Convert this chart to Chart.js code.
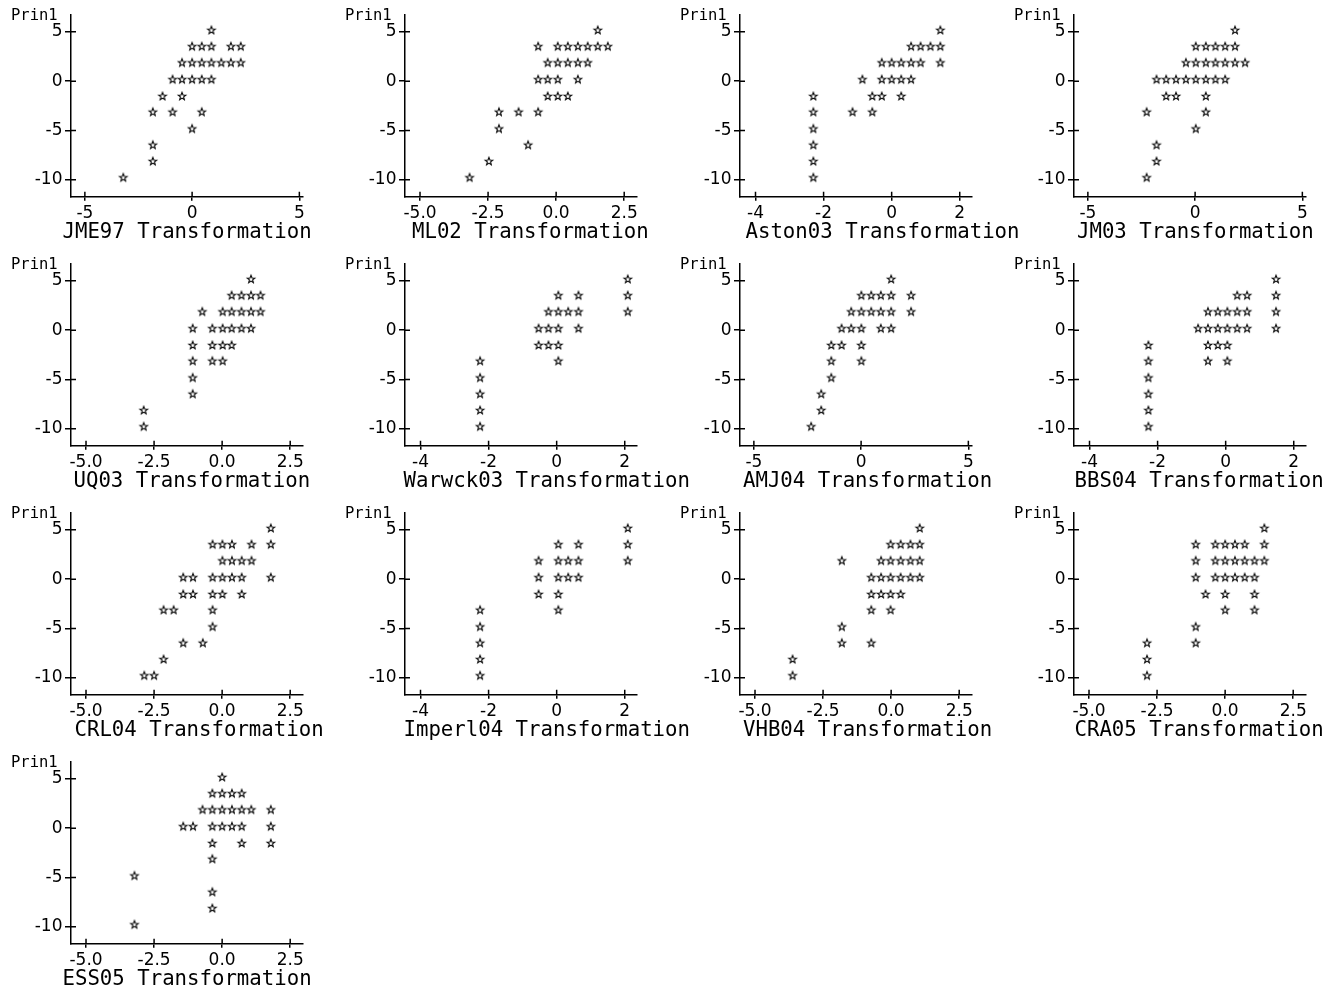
<!DOCTYPE html>
<html>
<head>
<meta charset="utf-8">
<script src="https://cdn.jsdelivr.net/npm/chart.js@4.4.1/dist/chart.umd.min.js"></script>
<style>
html,body{margin:0;padding:0;background:#fff;overflow:hidden;}
#wrap{position:relative;width:1343px;height:992px;}
.panel{position:absolute;width:364px;height:249px;}
</style>
</head>
<body>
<div id="wrap"></div>
<script>
// ---- tick values and labels ----
const yTicks = [5, 0, -5, -10];
const yTickLabels = ['5', '0', '-5', '-10'];
const xTicksInt = [-5, 0, 5];
const xLabelsInt = ['-5', '0', '5'];
const xTicksHalf = [-5, -2.5, 0, 2.5];
const xLabelsHalf = ['-5.0', '-2.5', '0.0', '2.5'];
const xTicksTwo = [-4, -2, 0, 2];
const xLabelsTwo = ['-4', '-2', '0', '2'];

// ---- panel names ----
const panelNames = ['JME97','ML02','Aston03','JM03','UQ03','Warwck03','AMJ04','BBS04','CRL04','Imperl04','VHB04','CRA05','ESS05'];

// ---- data: [transformation, Prin1] ----
const jme97 = [[0.90,5.2],
 [0.00,3.55],[0.45,3.55],[0.90,3.55],[1.81,3.55],[2.27,3.55],
 [-0.47,1.9],[0.00,1.9],[0.45,1.9],[0.90,1.9],[1.36,1.9],[1.81,1.9],[2.27,1.9],
 [-0.91,0.2],[-0.47,0.2],[0.00,0.2],[0.45,0.2],[0.90,0.2],
 [-1.38,-1.5],[-0.47,-1.5],
 [-1.83,-3.1],[-0.91,-3.1],[0.45,-3.1],
 [0.00,-4.8],[-1.83,-6.45],[-1.83,-8.1],[-3.21,-9.75]];
const ml02 = [[1.53,5.2],
 [-0.66,3.55],[0.06,3.55],[0.43,3.55],[0.80,3.55],[1.16,3.55],[1.53,3.55],[1.90,3.55],
 [-0.31,1.9],[0.06,1.9],[0.43,1.9],[0.80,1.9],[1.16,1.9],
 [-0.66,0.2],[-0.31,0.2],[0.06,0.2],[0.80,0.2],
 [-0.31,-1.5],[0.06,-1.5],[0.43,-1.5],
 [-2.10,-3.1],[-1.38,-3.1],[-0.66,-3.1],
 [-2.10,-4.8],[-1.03,-6.45],[-2.47,-8.1],[-3.18,-9.75]];
const aston03 = [[1.43,5.2],
 [0.57,3.55],[0.85,3.55],[1.14,3.55],[1.43,3.55],
 [-0.29,1.9],[0.00,1.9],[0.28,1.9],[0.57,1.9],[0.85,1.9],[1.43,1.9],
 [-0.86,0.2],[-0.29,0.2],[0.00,0.2],[0.28,0.2],[0.57,0.2],
 [-2.30,-1.5],[-0.57,-1.5],[-0.29,-1.5],[0.28,-1.5],
 [-2.30,-3.1],[-1.15,-3.1],[-0.57,-3.1],
 [-2.30,-4.8],[-2.30,-6.45],[-2.30,-8.1],[-2.30,-9.75]];
const jm03 = [[1.86,5.2],
 [0.03,3.55],[0.50,3.55],[0.95,3.55],[1.40,3.55],[1.86,3.55],
 [-0.43,1.9],[0.03,1.9],[0.50,1.9],[0.95,1.9],[1.40,1.9],[1.86,1.9],[2.33,1.9],
 [-1.80,0.2],[-1.35,0.2],[-0.89,0.2],[-0.43,0.2],[0.03,0.2],[0.50,0.2],[0.95,0.2],[1.40,0.2],
 [-1.35,-1.5],[-0.89,-1.5],[0.50,-1.5],
 [-2.26,-3.1],[0.50,-3.1],
 [0.03,-4.8],[-1.80,-6.45],[-1.80,-8.1],[-2.26,-9.75]];
const uq03 = [[1.06,5.2],
 [0.35,3.55],[0.71,3.55],[1.06,3.55],[1.41,3.55],
 [-0.73,1.9],[0.02,1.9],[0.35,1.9],[0.71,1.9],[1.06,1.9],[1.41,1.9],
 [-1.08,0.2],[-0.36,0.2],[0.02,0.2],[0.35,0.2],[0.71,0.2],[1.06,0.2],
 [-1.08,-1.5],[-0.36,-1.5],[0.02,-1.5],[0.35,-1.5],
 [-1.08,-3.1],[-0.36,-3.1],[0.02,-3.1],
 [-1.08,-4.8],[-1.08,-6.45],[-2.88,-8.1],[-2.88,-9.75]];
const warwck03 = [[2.09,5.2],
 [0.05,3.55],[0.64,3.55],[2.09,3.55],
 [-0.24,1.9],[0.05,1.9],[0.34,1.9],[0.64,1.9],[2.09,1.9],
 [-0.53,0.2],[-0.24,0.2],[0.05,0.2],[0.64,0.2],
 [-0.53,-1.5],[-0.24,-1.5],[0.05,-1.5],
 [-2.25,-3.1],[0.05,-3.1],
 [-2.25,-4.8],[-2.25,-6.45],[-2.25,-8.1],[-2.25,-9.75]];
const amj04 = [[1.40,5.2],
 [0.01,3.55],[0.47,3.55],[0.92,3.55],[1.40,3.55],[2.33,3.55],
 [-0.46,1.9],[0.01,1.9],[0.47,1.9],[0.92,1.9],[1.40,1.9],[2.33,1.9],
 [-0.91,0.2],[-0.46,0.2],[0.01,0.2],[0.92,0.2],[1.40,0.2],
 [-1.39,-1.5],[-0.91,-1.5],[0.01,-1.5],
 [-1.39,-3.1],[0.01,-3.1],
 [-1.39,-4.8],[-1.86,-6.45],[-1.86,-8.1],[-2.33,-9.75]];
const bbs04 = [[1.48,5.2],
 [0.34,3.55],[0.63,3.55],[1.48,3.55],
 [-0.52,1.9],[-0.23,1.9],[0.05,1.9],[0.34,1.9],[0.63,1.9],[1.48,1.9],
 [-0.81,0.2],[-0.52,0.2],[-0.23,0.2],[0.05,0.2],[0.34,0.2],[0.63,0.2],[1.48,0.2],
 [-2.27,-1.5],[-0.52,-1.5],[-0.23,-1.5],[0.05,-1.5],
 [-2.27,-3.1],[-0.52,-3.1],[0.05,-3.1],
 [-2.27,-4.8],[-2.27,-6.45],[-2.27,-8.1],[-2.27,-9.75]];
const crl04 = [[1.79,5.2],
 [-0.35,3.55],[0.01,3.55],[0.36,3.55],[1.08,3.55],[1.79,3.55],
 [0.01,1.9],[0.36,1.9],[0.72,1.9],[1.08,1.9],
 [-1.43,0.2],[-1.07,0.2],[-0.35,0.2],[0.01,0.2],[0.36,0.2],[0.72,0.2],[1.79,0.2],
 [-1.43,-1.5],[-1.07,-1.5],[-0.35,-1.5],[0.01,-1.5],[0.72,-1.5],
 [-2.15,-3.1],[-1.78,-3.1],[-0.35,-3.1],
 [-0.35,-4.8],
 [-1.43,-6.45],[-0.71,-6.45],
 [-2.15,-8.1],
 [-2.86,-9.75],[-2.50,-9.75]];
const imperl04 = [[2.09,5.2],
 [0.05,3.55],[0.64,3.55],[2.09,3.55],
 [-0.53,1.9],[0.05,1.9],[0.34,1.9],[0.64,1.9],[2.09,1.9],
 [-0.53,0.2],[0.05,0.2],[0.34,0.2],[0.64,0.2],
 [-0.53,-1.5],[0.05,-1.5],
 [-2.25,-3.1],[0.05,-3.1],
 [-2.25,-4.8],[-2.25,-6.45],[-2.25,-8.1],[-2.25,-9.75]];
const vhb04 = [[1.05,5.2],
 [-0.02,3.55],[0.35,3.55],[0.71,3.55],[1.05,3.55],
 [-1.81,1.9],[-0.37,1.9],[-0.02,1.9],[0.35,1.9],[0.71,1.9],[1.05,1.9],
 [-0.73,0.2],[-0.37,0.2],[-0.02,0.2],[0.35,0.2],[0.71,0.2],[1.05,0.2],
 [-0.73,-1.5],[-0.37,-1.5],[-0.02,-1.5],[0.35,-1.5],
 [-0.73,-3.1],[-0.02,-3.1],
 [-1.81,-4.8],
 [-1.81,-6.45],[-0.73,-6.45],
 [-3.62,-8.1],[-3.62,-9.75]];
const cra05 = [[1.44,5.2],
 [-1.08,3.55],[-0.36,3.55],[0.00,3.55],[0.36,3.55],[0.72,3.55],[1.44,3.55],
 [-1.08,1.9],[-0.36,1.9],[0.00,1.9],[0.36,1.9],[0.72,1.9],[1.08,1.9],[1.44,1.9],
 [-1.08,0.2],[-0.36,0.2],[0.00,0.2],[0.36,0.2],[0.72,0.2],[1.08,0.2],
 [-0.72,-1.5],[0.00,-1.5],[1.08,-1.5],
 [0.00,-3.1],[1.08,-3.1],
 [-1.08,-4.8],
 [-2.87,-6.45],[-1.08,-6.45],
 [-2.87,-8.1],[-2.87,-9.75]];
const ess05 = [[0.00,5.2],
 [-0.36,3.55],[0.00,3.55],[0.36,3.55],[0.72,3.55],
 [-0.72,1.9],[-0.36,1.9],[0.00,1.9],[0.36,1.9],[0.72,1.9],[1.07,1.9],[1.79,1.9],
 [-1.43,0.2],[-1.07,0.2],[-0.36,0.2],[0.00,0.2],[0.36,0.2],[0.72,0.2],[1.79,0.2],
 [-0.36,-1.5],[0.72,-1.5],[1.79,-1.5],
 [-0.36,-3.1],
 [-3.22,-4.8],
 [-0.36,-6.45],[-0.36,-8.1],[-3.22,-9.75]];

const panelData = [jme97, ml02, aston03, jm03, uq03, warwck03, amj04, bbs04, crl04, imperl04, vhb04, cra05, ess05];
// axis kind per panel: 'int' (-5..5), 'half' (-5.0..2.5), 'two' (-4..2)
const panelAxis = ['int','half','two','int','half','two','int','two','half','two','half','half','half'];

// ---- layout / style ----
const axisDefs = {
  int:  {min:-5.67, max:5.17, ticks:xTicksInt,  labels:xLabelsInt},
  half: {min:-5.57, max:2.97, ticks:xTicksHalf, labels:xLabelsHalf},
  two:  {min:-4.47, max:2.36, ticks:xTicksTwo,  labels:xLabelsTwo}
};
const colX = [0, 334, 669, 1003];
const rowY = [0, 249, 498, 747];
const captionLeft = [62.5, 78, 76.5, 74, 73.5, 69.5, 74, 71.5, 74.5, 69.5, 74, 71.5, 62.5];
const PW = 364, PH = 249;
const MONO = '"DejaVu Sans Mono", monospace';
const SANS = '"DejaVu Sans", sans-serif';
const INK = '#000';

// small five-pointed outline star used as the plotting symbol
function makeStar(){
  const sz = 12;
  const c = document.createElement('canvas');
  c.width = sz; c.height = sz;
  const g = c.getContext('2d');
  const R = 4.0, r = 1.7;
  g.translate(sz/2, sz/2 + 0.4);
  g.beginPath();
  for (let k = 0; k < 10; k++) {
    const rad = (k % 2) ? r : R;
    const a = -Math.PI/2 + k * Math.PI/5;
    if (k === 0) g.moveTo(rad*Math.cos(a), rad*Math.sin(a));
    else g.lineTo(rad*Math.cos(a), rad*Math.sin(a));
  }
  g.closePath();
  g.lineWidth = 1.1;
  g.strokeStyle = '#000';
  g.stroke();
  return c;
}

// draws the inward half of the tick marks so they cross the axes
const crossTicks = {
  id: 'crossTicks',
  afterDraw(chart){
    const ctx = chart.ctx, a = chart.chartArea;
    ctx.save();
    ctx.strokeStyle = INK; ctx.lineWidth = 1.5;
    ctx.beginPath();
    chart.scales.x.ticks.forEach(t => {
      const px = chart.scales.x.getPixelForValue(t.value);
      ctx.moveTo(px, a.bottom); ctx.lineTo(px, a.bottom - 5);
    });
    chart.scales.y.ticks.forEach(t => {
      const py = chart.scales.y.getPixelForValue(t.value);
      ctx.moveTo(a.left, py); ctx.lineTo(a.left + 5.5, py);
    });
    ctx.stroke();
    ctx.restore();
  }
};

// x-axis caption (drawn at its natural width, not squeezed to the axis length)
const axisCaption = {
  id: 'axisCaption',
  afterDraw(chart, args, opts){
    const ctx = chart.ctx;
    ctx.save();
    ctx.fillStyle = INK;
    ctx.font = opts.size + 'px ' + MONO;
    ctx.textAlign = 'left';
    ctx.textBaseline = 'middle';
    ctx.fillText(opts.text, opts.x, opts.y);
    ctx.restore();
  }
};

const star = makeStar();
const wrap = document.getElementById('wrap');

panelNames.forEach((name, i) => {
  const div = document.createElement('div');
  div.className = 'panel';
  div.style.left = colX[i % 4] + 'px';
  div.style.top = rowY[Math.floor(i / 4)] + 'px';
  const cv = document.createElement('canvas');
  cv.width = PW; cv.height = PH;
  cv.style.width = PW + 'px'; cv.style.height = PH + 'px';
  div.appendChild(cv);
  wrap.appendChild(div);
  const ax = axisDefs[panelAxis[i]];
  new Chart(cv, {
    type: 'scatter',
    data: { datasets: [{
      data: panelData[i].map(p => ({x: p[0], y: p[1]})),
      pointStyle: star, pointRadius: 6, pointHoverRadius: 6,
      backgroundColor: INK, borderColor: INK
    }]},
    options: {
      responsive: false, animation: false, events: [],
      layout: { padding: { left: 11, right: 31 + (PW - 334), top: 0, bottom: 0 } },
      plugins: {
        legend: { display: false },
        tooltip: { enabled: false },
        title: {
          display: true, text: 'Prin1', align: 'start', color: INK,
          font: { family: MONO, size: 15.5, weight: 'normal', lineHeight: 1.2 },
          padding: { top: 7, bottom: -11 }
        },
        axisCaption: { text: name + ' Transformation', x: captionLeft[i], y: 233, size: 20.7 }
      },
      scales: {
        x: {
          type: 'linear', min: ax.min, max: ax.max,
          afterBuildTicks: s => { s.ticks = ax.ticks.map(v => ({value: v})); },
          afterFit: s => { s.height = 52.3; },
          ticks: {
            callback: (v, idx) => ax.labels[idx],
            color: INK, font: { family: SANS, size: 17 }, padding: 3,
            maxRotation: 0, autoSkip: false
          },
          grid: { display: true, drawOnChartArea: false, drawTicks: true, tickLength: 4, color: INK, lineWidth: 1.5 },
          border: { display: true, color: INK, width: 1.5 },
          title: { display: false, text: name + ' Transformation' }
        },
        y: {
          type: 'linear', min: -11.72, max: 6.75,
          afterBuildTicks: s => { s.ticks = yTicks.map(v => ({value: v})); },
          afterFit: s => { s.width = 59.5; },
          ticks: {
            callback: (v, idx) => yTickLabels[idx],
            color: INK, font: { family: SANS, size: 17 }, padding: 2.5,
            autoSkip: false
          },
          grid: { display: true, drawOnChartArea: false, drawTicks: true, tickLength: 5.5, color: INK, lineWidth: 1.5 },
          border: { display: true, color: INK, width: 1.5 }
        }
      }
    },
    plugins: [crossTicks, axisCaption]
  });
});
</script>
</body>
</html>
